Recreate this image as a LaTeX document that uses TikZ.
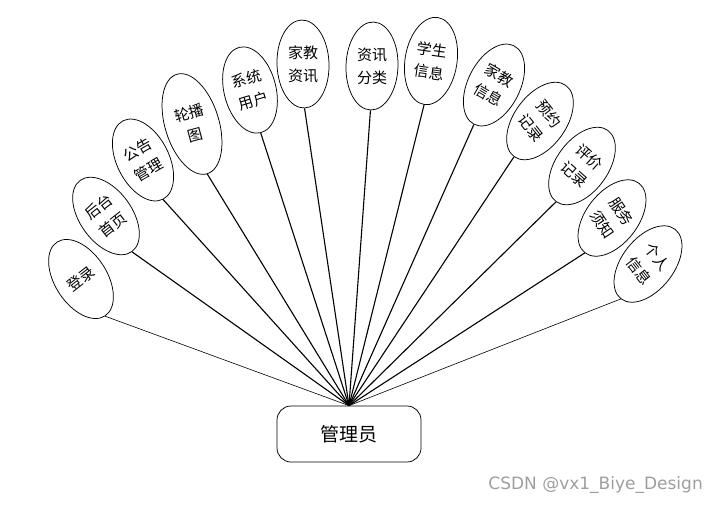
\documentclass[tikz,border=0pt]{standalone}
\usepackage{fontspec}
\setmainfont{Noto Sans CJK SC}
\newfontfamily\wmfont{DejaVu Sans}
\usetikzlibrary{shapes.geometric}
\begin{document}
\begin{tikzpicture}[x=1pt,y=-1pt,
  ell/.style={draw, ellipse, line width=0.75pt, minimum width=52pt, minimum height=88pt, inner sep=0pt},
  bigell/.style={ell, minimum width=54pt, minimum height=104pt},
  txt/.style={font=\fontsize{15pt}{23pt}\selectfont, align=center, inner sep=0pt},
  hubbox/.style={draw, rounded corners=14pt, line width=0.75pt, minimum width=144pt, minimum height=56pt, font=\fontsize{19pt}{22pt}\selectfont},
  conn/.style={line width=1.1pt},
  thinconn/.style={line width=0.6pt}
]
\useasboundingbox (0,0) rectangle (718,504);

\node[hubbox] (hub) at (349,434) {管理员};

\node[ell, rotate=33]  (e1)  at (81,279)  {};
\node[txt, rotate=38]  (t1)  at (e1.center) {登录};
\node[ell, rotate=36]  (e2)  at (106,216) {};
\node[txt, rotate=38]  (t2)  at (e2.center) {后台\\首页};
\node[ell, rotate=27]  (e3)  at (143,160) {};
\node[txt, rotate=30]  (t3)  at (e3.center) {公告\\管理};
\node[bigell, rotate=17] (e4) at (192,124) {};
\node[txt, rotate=15]  (t4)  at (e4.center) {轮播\\图};
\node[ell, rotate=14]  (e5)  at (250,90)  {};
\node[txt, rotate=17]  (t5)  at (e5.center) {系统\\用户};
\node[ell, rotate=2]   (e6)  at (303,64)  {};
\node[txt]             (t6)  at (e6.center) {家教\\资讯};
\node[ell, rotate=-2]  (e7)  at (372,66)  {};
\node[txt]             (t7)  at (e7.center) {资讯\\分类};
\node[ell, rotate=-9]  (e8)  at (431,61)  {};
\node[txt, rotate=-8]  (t8)  at (e8.center) {学生\\信息};
\node[ell, rotate=-27] (e9)  at (494,85)  {};
\node[txt, rotate=-30] (t9)  at (e9.center) {家教\\信息};
\node[ell, rotate=-36] (e10) at (540,121) {};
\node[txt, rotate=-52] (t10) at (e10.center) {预约\\记录};
\node[ell, rotate=-36] (e11) at (582,166) {};
\node[txt, rotate=-42] (t11) at (e11.center) {评价\\记录};
\node[ell, rotate=-38] (e12) at (612,218) {};
\node[txt, rotate=-56] (t12) at (e12.center) {服务\\须知};
\node[ell, rotate=-38] (e13) at (648,264) {};
\node[txt, rotate=-52] (t13) at (e13.center) {个人\\信息};

\draw[thinconn] (hub.north) -- (e1.south);
\foreach \i in {2,...,12} {\draw[conn] (hub.north) -- (e\i.south);}
\draw[thinconn] (hub.north) -- (e13.south);

\node[font=\wmfont\fontsize{17pt}{20pt}\selectfont, text=black!38, anchor=east, inner sep=0pt] (wm) at (703,485) {CSDN @vx1\_Biye\_Design};
\end{tikzpicture}
\end{document}
